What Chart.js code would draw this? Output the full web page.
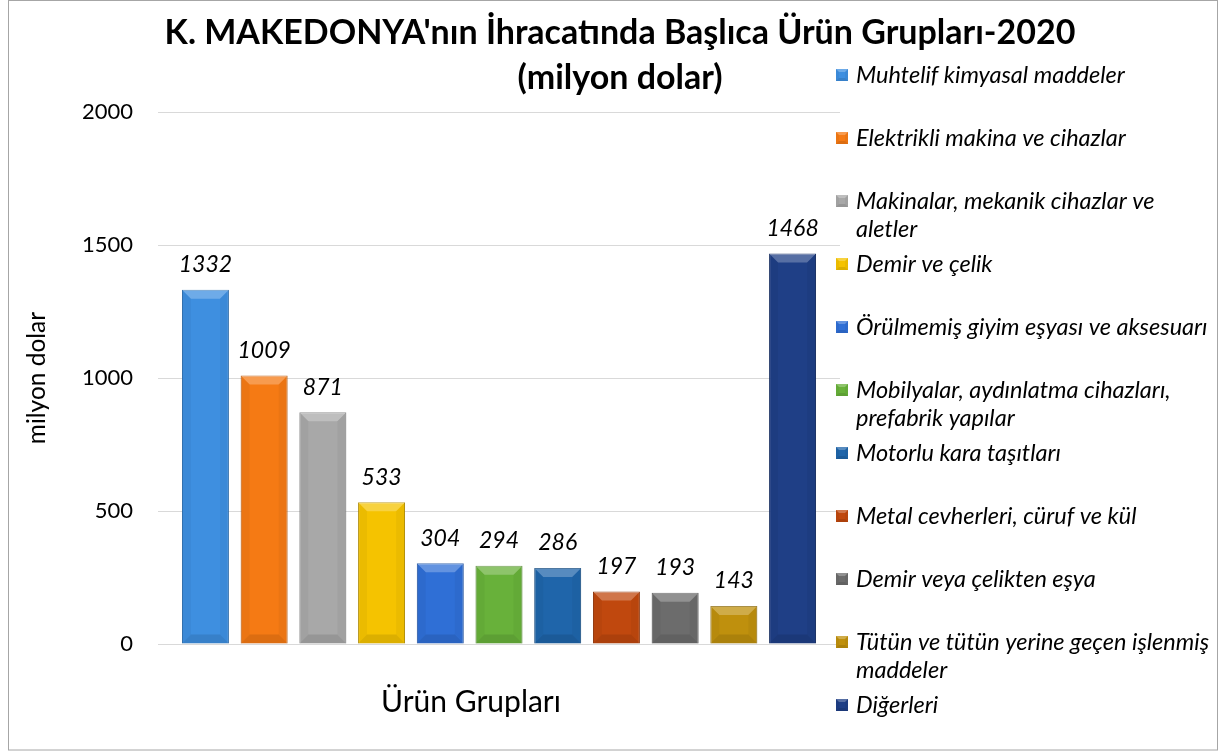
<!DOCTYPE html>
<html lang="tr">
<head>
<meta charset="utf-8">
<title>K. Makedonya ihracat 2020</title>
<script src="https://cdn.jsdelivr.net/npm/chart.js@4.4.1/dist/chart.umd.min.js"></script>
<style>
    html, body { margin: 0; padding: 0; background: #ffffff; }
    canvas { display: block; }
</style>
</head>
<body>
<canvas id="grafik" width="1219" height="751"></canvas>
<script>
// veriler
const kategoriler = ['Ürün Grupları'];
const urunGruplari = [
    'Muhtelif kimyasal maddeler',
    'Elektrikli makina ve cihazlar',
    'Makinalar, mekanik cihazlar ve aletler',
    'Demir ve çelik',
    'Örülmemiş giyim eşyası ve aksesuarı',
    'Mobilyalar, aydınlatma cihazları, prefabrik yapılar',
    'Motorlu kara taşıtları',
    'Metal cevherleri, cüruf ve kül',
    'Demir veya çelikten eşya',
    'Tütün ve tütün yerine geçen işlenmiş maddeler',
    'Diğerleri'
];
const degerler = [1332, 1009, 871, 533, 304, 294, 286, 197, 193, 143, 1468];
const renkler = [
    '#3e8fe0', '#f57a14', '#a8a8a8', '#f5c300', '#2f6fd6', '#68b13a',
    '#1f65aa', '#c0480e', '#6c6c6c', '#bf900d', '#1f3f86'
];
const kenarRenkleri = [
    '#2b6cae', '#b8590c', '#7c7c7c', '#b58f00', '#2153a3', '#4c8529',
    '#154b80', '#8f350a', '#4e4e4e', '#8c6a09', '#152d62'
];
const baslikSatirlari = ["K. MAKEDONYA'nın İhracatında Başlıca Ürün Grupları-2020", '(milyon dolar)'];
const yEksenBasligi = 'milyon dolar';
const xEksenBasligi = 'Ürün Grupları';
const yMin = 0;
const yMax = 2000;
const yAdim = 500;

const FONT = 'Lato, "Open Sans", sans-serif';

// çubuklara kabartma efekti
function kabartmaCiz(ctx, sol, ust, sag, alt, b) {
    ctx.fillStyle = 'rgba(255,255,255,0.25)';
    ctx.beginPath();
    ctx.moveTo(sol, ust); ctx.lineTo(sag, ust); ctx.lineTo(sag - b, ust + b); ctx.lineTo(sol + b, ust + b);
    ctx.closePath(); ctx.fill();

    ctx.fillStyle = 'rgba(0,0,0,0.10)';
    ctx.beginPath();
    ctx.moveTo(sol, alt); ctx.lineTo(sag, alt); ctx.lineTo(sag - b, alt - b); ctx.lineTo(sol + b, alt - b);
    ctx.closePath(); ctx.fill();

    ctx.fillStyle = 'rgba(0,0,0,0.04)';
    ctx.beginPath();
    ctx.moveTo(sol, ust); ctx.lineTo(sol + b, ust + b); ctx.lineTo(sol + b, alt - b); ctx.lineTo(sol, alt);
    ctx.closePath(); ctx.fill();
    ctx.beginPath();
    ctx.moveTo(sag, ust); ctx.lineTo(sag - b, ust + b); ctx.lineTo(sag - b, alt - b); ctx.lineTo(sag, alt);
    ctx.closePath(); ctx.fill();
}

// metni satırlara böl
function satirlaraBol(ctx, metin, genislik) {
    const kelimeler = metin.split(' ');
    const satirlar = [];
    let satir = '';
    kelimeler.forEach(function(k) {
        const deneme = satir ? satir + ' ' + k : k;
        if (ctx.measureText(deneme).width > genislik && satir) {
            satirlar.push(satir);
            satir = k;
        } else {
            satir = deneme;
        }
    });
    if (satir) satirlar.push(satir);
    return satirlar;
}

const ozelCizim = {
    id: 'ozelCizim',
    beforeDraw(chart) {
        const ctx = chart.ctx;
        ctx.save();
        ctx.fillStyle = '#ffffff';
        ctx.fillRect(0, 0, chart.width, chart.height);
        ctx.strokeStyle = '#a6a6a6';
        ctx.lineWidth = 1;
        ctx.strokeRect(8.5, 0.5, chart.width - 10, chart.height - 1.5);
        ctx.restore();
    },
    afterDatasetsDraw(chart) {
        const ctx = chart.ctx;
        ctx.save();
        chart.data.datasets.forEach(function(ds, i) {
            const meta = chart.getDatasetMeta(i);
            meta.data.forEach(function(el, j) {
                const p = el.getProps(['x', 'y', 'base', 'width'], true);
                const sol = p.x - p.width / 2;
                const sag = p.x + p.width / 2;
                const b = Math.min(9, p.width / 4, (p.base - p.y) / 3);
                kabartmaCiz(ctx, sol, p.y, sag, p.base, b);
                // değer etiketi
                ctx.fillStyle = '#000000';
                ctx.font = 'italic 23px ' + FONT;
                ctx.textAlign = 'center';
                ctx.textBaseline = 'middle';
                ctx.fillText(String(ds.data[j]), p.x, p.y - 25);
            });
        });
        ctx.restore();
    },
    afterDraw(chart) {
        const ctx = chart.ctx;
        const alan = chart.chartArea;
        ctx.save();
        // başlık
        ctx.fillStyle = '#000000';
        ctx.font = 'bold 34px ' + FONT;
        ctx.textAlign = 'center';
        ctx.textBaseline = 'middle';
        baslikSatirlari.forEach(function(s, i) {
            ctx.fillText(s, 620, 33 + i * 45);
        });

        // x ekseni başlığı
        ctx.font = '30px ' + FONT;
        ctx.fillText(xEksenBasligi, alan.left + alan.width * 0.459, 702);

        // açıklama
        ctx.font = 'italic 23.5px ' + FONT;
        ctx.textAlign = 'left';
        const kutuX = alan.right - 4;
        const metinX = kutuX + 20;
        const ustY = 75;
        const adim = (chart.height - ustY - 46) / (urunGruplari.length - 1);
        chart.data.datasets.forEach(function(ds, i) {
            const y = ustY + i * adim;
            ctx.fillStyle = ds.backgroundColor;
            ctx.fillRect(kutuX, y - 6, 12, 12);
            kabartmaCiz(ctx, kutuX, y - 6, kutuX + 12, y + 6, 3);
            ctx.fillStyle = '#000000';
            const satirlar = satirlaraBol(ctx, ds.label, chart.width - metinX - 4);
            satirlar.forEach(function(s, k) {
                ctx.fillText(s, metinX, y + k * 28);
            });
        });
        ctx.restore();
    }
};

// grafik oluştur
function grafikOlustur() {
    const datasets = urunGruplari.map(function(ad, i) {
        return {
            label: ad,
            data: [degerler[i]],
            backgroundColor: renkler[i],
            borderColor: kenarRenkleri[i],
            borderWidth: 1,
            categoryPercentage: 0.947,
            barPercentage: 0.8
        };
    });

    new Chart(document.getElementById('grafik'), {
        type: 'bar',
        data: {
            labels: kategoriler,
            datasets: datasets
        },
        options: {
            responsive: false,
            devicePixelRatio: 1,
            animation: false,
            layout: {
                padding: { left: 9, right: 379, top: 112, bottom: 99 }
            },
            plugins: {
                legend: { display: false },
                title: { display: false },
                tooltip: { enabled: false }
            },
            scales: {
                x: {
                    ticks: { display: false },
                    grid: { display: false },
                    border: { display: false }
                },
                y: {
                    min: yMin,
                    max: yMax,
                    ticks: {
                        stepSize: yAdim,
                        padding: 25,
                        color: '#000000',
                        font: { family: FONT, size: 22 },
                        callback: function(v) { return String(v); }
                    },
                    grid: { color: '#d9d9d9', drawTicks: false },
                    border: { display: false },
                    title: {
                        display: true,
                        text: yEksenBasligi,
                        color: '#000000',
                        font: { family: FONT, size: 24.5 },
                        padding: { top: 13, bottom: 0 }
                    },
                    afterFit: function(scale) {
                        scale.width = 149;
                    }
                }
            }
        },
        plugins: [ozelCizim]
    });
}

grafikOlustur();
</script>
</body>
</html>
